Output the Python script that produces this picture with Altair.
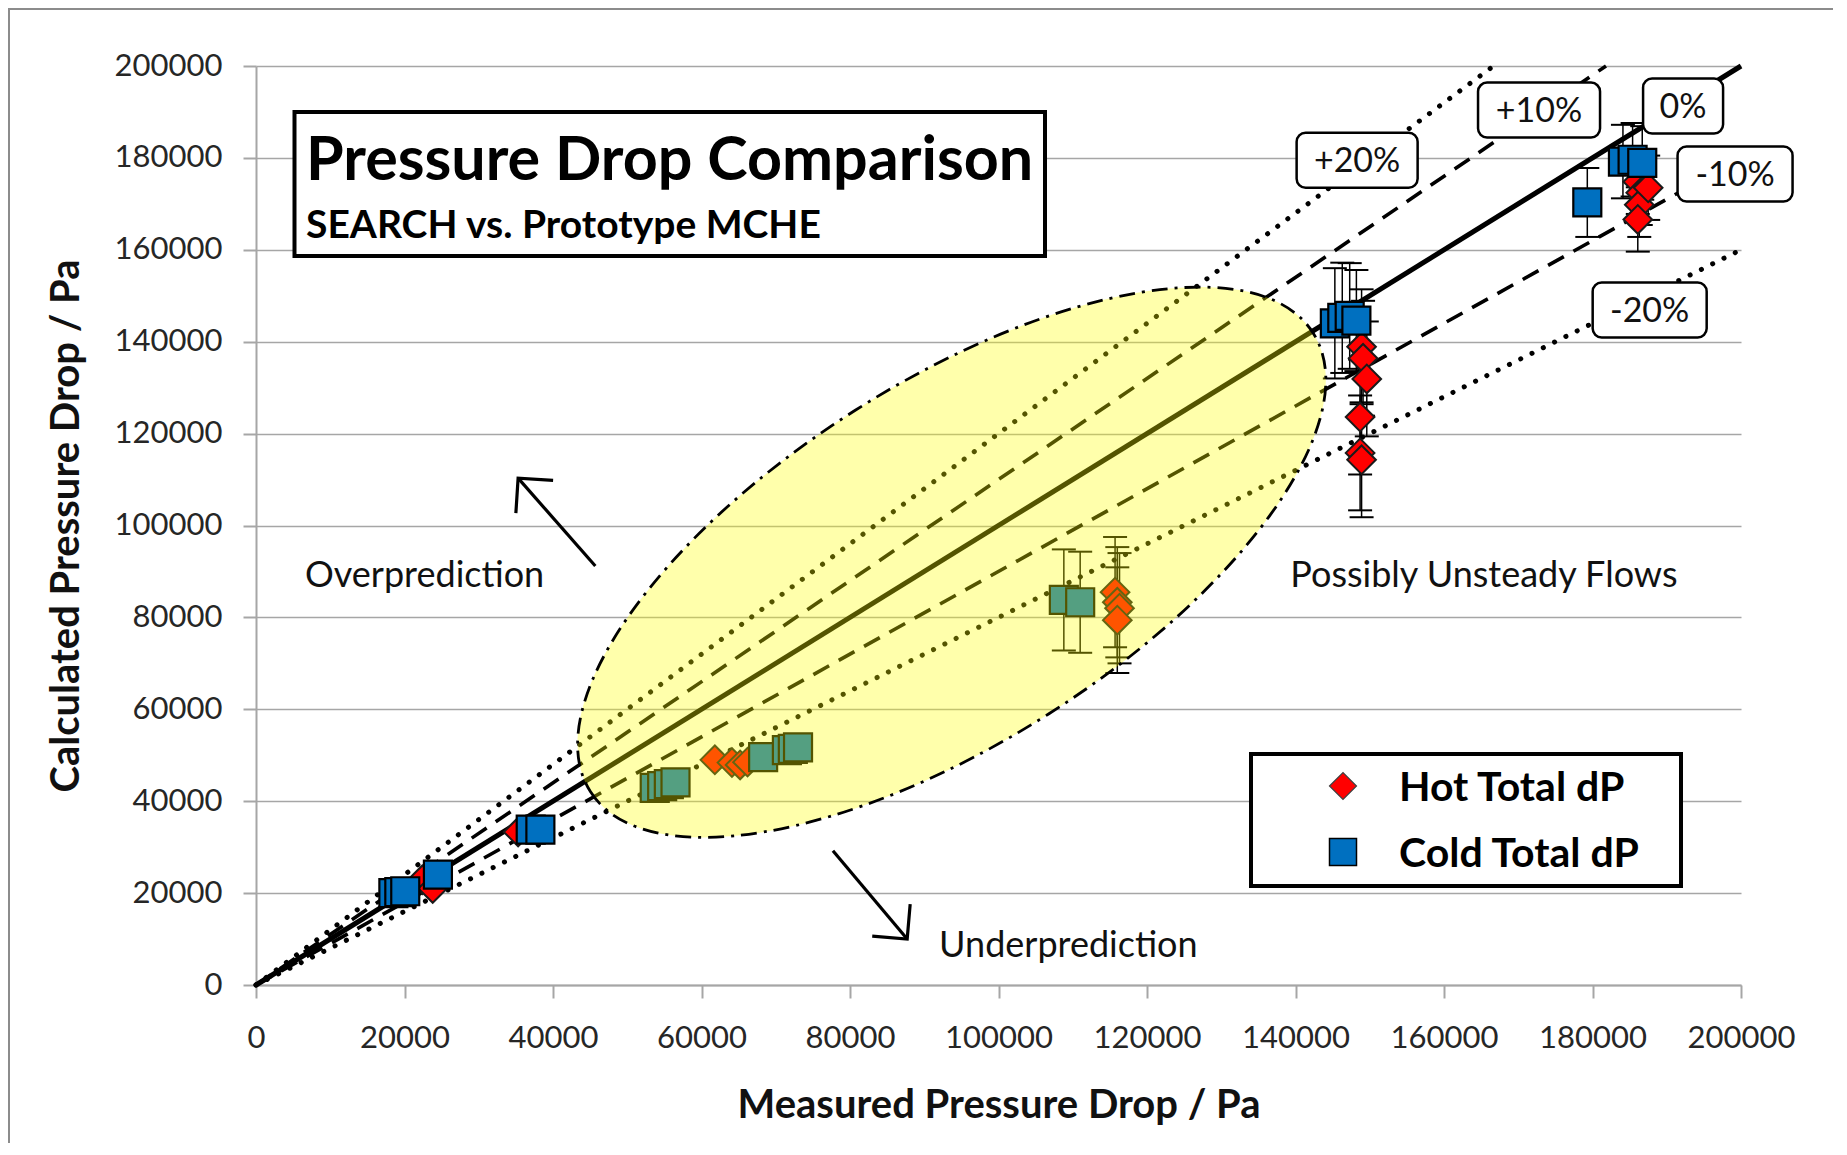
import math
import altair as alt
import pandas as pd

W, H = 1485, 919
XMAX, YMAX = 200000, 200000
FONT = "Lato"
GREY = "#a6a6a6"

# ---------------- data ----------------
hot_x = [22400, 23800, 35300, 61800, 64100, 65200, 66200,
         115700, 116000, 116300, 116000,
         148900, 149100, 149600, 148700, 148700, 148900,
         186100, 186500, 186300, 186100, 187500]
hot_y = [22900, 21000, 33300, 49000, 48400, 47900, 48500,
         85500, 83300, 82000, 79400,
         138900, 136400, 131900, 123600, 115800, 114300,
         174800, 172400, 169800, 166600, 173500]
hot_err = [0, 0, 0, 0, 0, 0, 0,
           12000, 12000, 12000, 11500,
           12500, 12500, 12500, 12500, 12500, 12500,
           7000, 7000, 7000, 7000, 7000]

cold_x = [18500, 19300, 20100, 24500, 37000, 38300,
          53700, 54700, 55600, 56500,
          68300, 71500, 72300, 73000,
          108800, 111000,
          145300, 146300, 147300, 148200,
          179300, 184100, 185400, 186700]
cold_y = [20000, 20200, 20400, 24000, 33800, 33800,
          42900, 43300, 43700, 44100,
          49600, 51100, 51400, 51700,
          83800, 83300,
          144000, 145200, 145600, 144600,
          170300, 179200, 179600, 178900]
cold_err = [0, 0, 0, 0, 0, 0,
            0, 0, 0, 0,
            0, 0, 0, 0,
            11000, 11000,
            12000, 12000, 11500, 11000,
            7500, 8000, 8000, 8000]

ref_names = ["0%", "+10%", "-10%", "+20%", "-20%"]
ref_factor = [1.0, 1.1, 0.9, 1.2, 0.8]

label_text = ["+20%", "+10%", "0%", "-10%", "-20%"]
label_x = [148300, 172800, 192200, 199200, 187700]
label_y = [179500, 190400, 191300, 176500, 146900]
label_wpx = [121, 122, 80, 115, 114]
LABEL_HPX = 55

ann_text = ["Overprediction", "Underprediction", "Possibly Unsteady Flows"]
ann_x = [6600, 92000, 139300]
ann_y = [89000, 8500, 89000]

arrow_x0 = [45700, 77700]
arrow_y0 = [91200, 29200]
arrow_x1 = [35300, 87700]
arrow_y1 = [110300, 10000]

ellipse_cx, ellipse_cy = 93700, 92000
ellipse_a_px, ellipse_b_px, ellipse_tilt = 428, 180, 32.4

# ---------------- tables ----------------
PX = XMAX / W   # data units per pixel (x)
PY = YMAX / H   # data units per pixel (y)

hot = pd.DataFrame({"x": hot_x, "y": hot_y, "err": hot_err})
cold = pd.DataFrame({"x": cold_x, "y": cold_y, "err": cold_err})


def errs(df):
    d = df[df.err > 0].copy()
    d["lo"] = d.y - d.err
    d["hi"] = d.y + d.err
    return d


err = pd.concat([errs(hot), errs(cold)], ignore_index=True)
caps = pd.concat([err[["x", "lo"]].rename(columns={"lo": "y"}),
                  err[["x", "hi"]].rename(columns={"hi": "y"})], ignore_index=True)

ref_rows = []
for name, f in zip(ref_names, ref_factor):
    xe = min(XMAX, YMAX / f)
    ref_rows.append({"name": name, "x": 0, "y": 0, "o": 0})
    ref_rows.append({"name": name, "x": xe, "y": f * xe, "o": 1})
ref = pd.DataFrame(ref_rows)

boxes = pd.DataFrame({"label": label_text, "cx": label_x, "cy": label_y, "w": label_wpx})
boxes["x1"] = boxes.cx - boxes.w / 2 * PX
boxes["x2"] = boxes.cx + boxes.w / 2 * PX
boxes["y1"] = boxes.cy - LABEL_HPX / 2 * PY
boxes["y2"] = boxes.cy + LABEL_HPX / 2 * PY

ann = pd.DataFrame({"text": ann_text, "x": ann_x, "y": ann_y})

arrows = pd.DataFrame({"x": arrow_x0, "y": arrow_y0, "x2": arrow_x1, "y2": arrow_y1})
heads = pd.DataFrame({"x": arrow_x1, "y": arrow_y1})
head_angles = []
for x0, y0, x1, y1 in zip(arrow_x0, arrow_y0, arrow_x1, arrow_y1):
    dxs = (x1 - x0) / PX
    dys = -(y1 - y0) / PY
    head_angles.append(math.degrees(math.atan2(dys, dxs)) % 360)

ell = pd.DataFrame({"x": [ellipse_cx], "y": [ellipse_cy]})
ratio = ellipse_b_px / ellipse_a_px
ellipse_path = f"M -1 0 A 1 {ratio:.4f} 0 1 0 1 0 A 1 {ratio:.4f} 0 1 0 -1 0 Z"

one = pd.DataFrame({"k": [0]})

# ---------------- scales / axes ----------------
xscale = alt.Scale(domain=[0, XMAX], nice=False, zero=True)
yscale = alt.Scale(domain=[0, YMAX], nice=False, zero=True)
ticks = list(range(0, XMAX + 1, 20000))

xaxis = alt.Axis(title="Measured Pressure Drop / Pa", values=ticks, format="d", grid=False,
                 tickSize=13, tickColor=GREY, tickWidth=2, domainColor=GREY, domainWidth=2,
                 labelFont=FONT, labelFontSize=31, labelColor="#262626", labelPadding=25,
                 labelFlush=False, labelOverlap=False,
                 titleFont=FONT, titleFontSize=40, titleFontWeight="bold", titleColor="#111111",
                 titleX=W / 2, titleY=132, titleAlign="center", titleBaseline="alphabetic", titleAngle=0)
yaxis = alt.Axis(title="Calculated Pressure Drop / Pa", values=ticks, format="d", grid=True,
                 gridColor=GREY, gridWidth=1.5,
                 tickSize=13, tickColor=GREY, tickWidth=2, domainColor=GREY, domainWidth=2,
                 labelFont=FONT, labelFontSize=31, labelColor="#262626", labelPadding=21,
                 labelFlush=False, labelOverlap=False, labelBaseline="middle",
                 titleFont=FONT, titleFontSize=40, titleFontWeight="bold", titleColor="#111111",
                 titleX=-178, titleY=H / 2, titleAngle=270, titleAlign="center", titleBaseline="alphabetic")


def X(f="x"):
    return alt.X(f, type="quantitative", scale=xscale, axis=xaxis)


def Y(f="y"):
    return alt.Y(f, type="quantitative", scale=yscale, axis=yaxis)


# ---------------- layers ----------------
line_solid = alt.Chart(ref[ref.name == "0%"]).mark_line(color="black", strokeWidth=5).encode(
    X(), Y(), detail="name:N", order="o:Q")
line_dash = alt.Chart(ref[ref.name.isin(["+10%", "-10%"])]).mark_line(
    color="black", strokeWidth=3.6, strokeDash=[18, 11]).encode(X(), Y(), detail="name:N", order="o:Q")
line_dot = alt.Chart(ref[ref.name.isin(["+20%", "-20%"])]).mark_line(
    color="black", strokeWidth=5, strokeDash=[0.1, 12.5], strokeCap="round").encode(
    X(), Y(), detail="name:N", order="o:Q")

err_rules = alt.Chart(err).mark_rule(color="black", strokeWidth=1.5).encode(X(), Y("lo"), y2="hi:Q")
err_caps = alt.Chart(caps).mark_point(shape="M -1 0 L 1 0", size=576, filled=False, color="black",
                                      strokeWidth=2, opacity=1).encode(X(), Y())

hot_pts = alt.Chart(hot).mark_point(shape="diamond", size=820, filled=True, fill="#ff0000",
                                    stroke="#1a1a1a", strokeWidth=2, opacity=1).encode(X(), Y())
cold_pts = alt.Chart(cold).mark_point(shape="square", size=784, filled=True, fill="#0070c0",
                                      stroke="#000000", strokeWidth=2.2, opacity=1).encode(X(), Y())

ellipse = alt.Chart(ell).mark_point(shape=ellipse_path, size=(2 * ellipse_a_px) ** 2,
                                    angle=360 - ellipse_tilt, filled=True, fill="#ffff00",
                                    fillOpacity=0.33, stroke="black", strokeOpacity=1, opacity=1,
                                    strokeWidth=2.8, strokeDash=[16, 7, 3, 7]).encode(X(), Y())

arrow_shafts = alt.Chart(arrows).mark_rule(color="black", strokeWidth=3.2).encode(
    X(), Y(), x2="x2:Q", y2="y2:Q")
arrow_heads = [
    alt.Chart(heads.iloc[[i]]).mark_point(shape="M -0.8 -0.8 L 0 0 L -0.8 0.8", size=3844,
                                          angle=head_angles[i], filled=False, color="black",
                                          strokeWidth=3.2, opacity=1).encode(X(), Y())
    for i in range(len(heads))
]

ann_text_layer = alt.Chart(ann).mark_text(align="left", baseline="middle", font=FONT, fontSize=36,
                                          color="#111111").encode(X(), Y(), text="text:N")

box_rects = alt.Chart(boxes).mark_rect(fill="white", stroke="black", strokeWidth=2.5,
                                       cornerRadius=9).encode(X("x1"), Y("y1"), x2="x2:Q", y2="y2:Q")
box_text = alt.Chart(boxes).mark_text(align="center", baseline="middle", font=FONT, fontSize=34,
                                      color="#111111", dy=2).encode(X("cx"), Y("cy"), text="label:N")

title_box = alt.Chart(one).mark_rect(fill="white", stroke="black", strokeWidth=4).encode(
    x=alt.value(38.5), x2=alt.value(789), y=alt.value(46), y2=alt.value(190))
title_main = alt.Chart(one).mark_text(align="left", baseline="alphabetic", font=FONT, fontSize=61,
                                      fontWeight="bold", color="black").encode(
    x=alt.value(50), y=alt.value(114), text=alt.value("Pressure Drop Comparison"))
title_sub = alt.Chart(one).mark_text(align="left", baseline="alphabetic", font=FONT, fontSize=39,
                                     fontWeight="bold", color="black").encode(
    x=alt.value(50), y=alt.value(172), text=alt.value("SEARCH vs. Prototype MCHE"))

legend_box = alt.Chart(one).mark_rect(fill="white", stroke="black", strokeWidth=4).encode(
    x=alt.value(995), x2=alt.value(1425), y=alt.value(688), y2=alt.value(820))
legend_hot = alt.Chart(one).mark_point(shape="diamond", size=729, filled=True, fill="#ff0000",
                                       stroke="#404040", strokeWidth=1.2, opacity=1).encode(
    x=alt.value(1087), y=alt.value(720))
legend_cold = alt.Chart(one).mark_point(shape="square", size=729, filled=True, fill="#0070c0",
                                        stroke="#000000", strokeWidth=1.5, opacity=1).encode(
    x=alt.value(1087), y=alt.value(786))
legend_t1 = alt.Chart(one).mark_text(align="left", baseline="alphabetic", font=FONT, fontSize=41,
                                     fontWeight="bold", color="black").encode(
    x=alt.value(1143), y=alt.value(735), text=alt.value("Hot Total dP"))
legend_t2 = alt.Chart(one).mark_text(align="left", baseline="alphabetic", font=FONT, fontSize=41,
                                     fontWeight="bold", color="black").encode(
    x=alt.value(1143), y=alt.value(801), text=alt.value("Cold Total dP"))

frame = alt.Chart(one).mark_rect(fillOpacity=0, stroke="#8c8c8c", strokeWidth=2).encode(
    x=alt.value(-247), x2=alt.value(W + 200), y=alt.value(-57), y2=alt.value(H + 300))

chart = alt.layer(
    line_dot, line_dash, line_solid,
    err_rules, err_caps, hot_pts, cold_pts,
    ellipse,
    arrow_shafts, *arrow_heads, ann_text_layer,
    box_rects, box_text,
    title_box, title_main, title_sub,
    legend_box, legend_hot, legend_cold, legend_t1, legend_t2,
    frame,
).properties(
    width=W, height=H,
    autosize=alt.AutoSizeParams(type="none"),
    padding={"left": 248, "top": 58, "right": 92, "bottom": 158},
).configure(font=FONT).configure_view(stroke="transparent")

chart.save("out.html", embed_options={"renderer": "svg", "actions": False})
